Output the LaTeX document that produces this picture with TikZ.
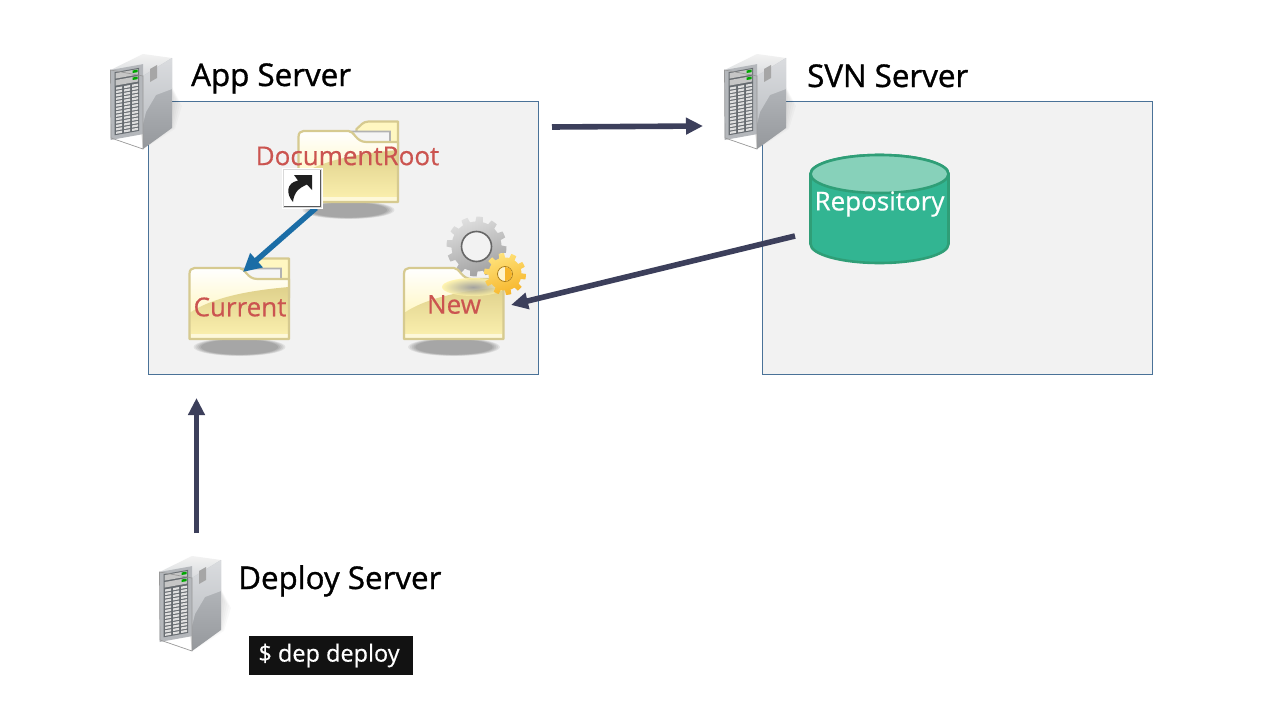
\documentclass[tikz,border=0pt]{standalone}
\usepackage{fontspec}
\setmainfont{Open Sans}
\newfontfamily\headfont[FakeBold=1.1]{Open Sans}
\newfontfamily\labelfont[FakeBold=0.5]{Open Sans}
\usetikzlibrary{arrows.meta}
\definecolor{panelbg}{HTML}{F2F2F2}
\definecolor{panelline}{HTML}{4A7298}
\definecolor{navy}{HTML}{3C3F5B}
\definecolor{linkblue}{HTML}{1B6DA6}
\definecolor{redlabel}{HTML}{CB5450}
\definecolor{cylbody}{HTML}{32B592}
\definecolor{cyltop}{HTML}{87D1BA}
\definecolor{cylline}{HTML}{2F9E77}
\definecolor{folderline}{HTML}{D6CA90}
\definecolor{foldermid}{HTML}{FFF3A6}
\definecolor{folderlow}{HTML}{DFD18C}
\definecolor{folderend}{HTML}{FCF1B0}
\definecolor{servertop}{HTML}{D9DBDD}
\definecolor{sidehi}{HTML}{DADCDF}
\definecolor{sidemid}{HTML}{BFC2C6}
\definecolor{sidelo}{HTML}{95989C}
\definecolor{frontface}{HTML}{B4B7BB}
\definecolor{rackdark}{HTML}{666B70}
\definecolor{gearhi}{HTML}{FFE27A}
\definecolor{gearlo}{HTML}{F6B52A}
\tikzset{
  x=1pt,y=-1pt,
  panelbox/.style={draw=panelline,line width=0.9pt,fill=panelbg,outer sep=0pt},
  headtext/.style={anchor=base west,inner sep=0pt,font=\fontsize{31.3}{36}\headfont},
  redtext/.style={inner sep=0pt,text=redlabel,font=\fontsize{26}{31}\labelfont},
  flow/.style={draw=navy,line width=5.6pt,-{Triangle[length=17pt,width=16pt]}},
  serverpic/.pic={
    \foreach \k in {1,...,5}{
      \fill[black,opacity=0.025] (30,70) -- (62,{38-\k}) -- ({62+2*\k},{42+2*\k}) -- ({60+\k},{70+\k}) -- (33,{93+\k/2}) -- cycle;
    }
    \shade[top color=white!90!gray,bottom color=servertop] (33,0) -- (62,4) -- (33,22) -- (0.5,16) -- cycle;
    \shade[top color=sidemid,bottom color=sidelo] (33,22) -- (62,4) -- (62,74) -- (33,95) -- cycle;
    \shade[top color=sidehi,bottom color=sidemid] (33,22) -- (62,4) -- (62,35) -- (46,41) -- (36,58) -- (33,70) -- cycle;
    \fill[gray!70] (40,15) -- (47,11) -- (47,24) -- (40,28) -- cycle;
    \begin{scope}[cm={1,0.18,0,-1,(0.5,16)}]
      \fill[frontface] (0,0) rectangle (32.5,-70);
      \fill[rackdark] (4,-3) rectangle (28.5,-66);
      \fill[gray!45] (5,-4) rectangle (27.5,-9.5);
      \fill[gray!45] (5,-11) rectangle (27.5,-16.5);
      \fill[green!65!black] (22,-4.5) rectangle (27,-7);
      \fill[green!65!black] (22,-11.5) rectangle (27,-14);
      \foreach \r in {0,...,13}{
        \foreach \c in {5.5,13.5,21.5}{
          \fill[white!75!gray] (\c,{-18.5-3.4*\r}) rectangle ({\c+6},{-20.7-3.4*\r});
        }
      }
    \end{scope}
    \draw[gray!80,line width=0.7pt] (0.5,16) -- (33,22) -- (33,95) -- (1,84) -- cycle;
  },
  foldershade/.pic={
    \foreach \s in {1,0.96,0.92,0.88,0.84}{
      \fill[black,opacity=0.07] (50,89) ellipse [x radius={46*\s},y radius={9*\s}];
    }
  },
  folderback/.pic={
    \fill[foldermid!70!white,draw=folderline,line width=2.2pt,line join=round] (58,30) -- (58,8) .. controls (62,5) and (64,0.5) .. (70,0.5) -- (99.5,0.5) -- (99.5,40) -- cycle;
    \fill[white!92!gray,draw=gray!60,line width=1.6pt] (47,10.5) -- (91.5,10.5) -- (91.5,24) -- (60,24) -- cycle;
  },
  folderfront/.pic={
    \shade[top color=white,bottom color=foldermid,draw=none]
      (0,16) .. controls (0,12) and (2,10) .. (5,10) -- (50,10) .. controls (56,10) and (57,21) .. (68,21) -- (99.5,21) -- (99.5,81) -- (0,81) -- cycle;
    \shade[top color=folderlow,bottom color=folderend]
      (0,55) .. controls (25,38) and (65,32) .. (99.5,29) -- (99.5,81) -- (0,81) -- cycle;
    \fill[white!70!foldermid,opacity=0.8] (1,76) -- (98,76) -- (98,80) -- (1,80) -- cycle;
    \draw[folderline,line width=2.2pt,line join=round]
      (0,16) .. controls (0,12) and (2,10) .. (5,10) -- (50,10) .. controls (56,10) and (57,21) .. (68,21) -- (99.5,21) -- (99.5,81) -- (0,81) -- cycle;
  },
}
\begin{document}
\begin{tikzpicture}
\useasboundingbox (0,0) rectangle (1280,720);
\fill[white] (0,0) rectangle (1280,720);

% panels
\node[panelbox,anchor=north west,minimum width=390pt,minimum height=273pt,inner sep=0pt] (appbox) at (148.5,101.5) {};
\node[panelbox,anchor=north west,minimum width=390pt,minimum height=273pt,inner sep=0pt] (svnbox) at (762.5,101.5) {};

% servers
\pic at (110,54) {serverpic};
\pic at (724,54) {serverpic};
\pic at (159,556) {serverpic};
\node[headtext] (apptitle) at (191,86) {App Server};
\node[headtext] (svntitle) at (807,87) {SVN Server};
\node[headtext] (deploytitle) at (238,589) {Deploy Server};

% DocumentRoot folder
\pic at (298.5,121) {foldershade};
\pic at (298.5,121) {folderback};
\pic at (298.5,121) {folderfront};
\node[redtext] (docroot) at (347.5,156) {DocumentRoot};

% Current folder
\pic at (189.5,258) {foldershade};
\pic at (189.5,258) {folderback};
\pic at (189.5,258) {folderfront};
\node[redtext] (current) at (240,307) {Current};

% New folder with gears
\pic at (404,258) {foldershade};
\begin{scope}[shift={(476.5,246.5)}]
  \shade[top color=gray!25,bottom color=gray!75,shading angle=20]
    plot[domain=0:360,samples=145] (\x:{(sin(12*\x+15)>0)?30:25}) -- cycle;
  \fill[panelbg,draw=gray!80!black,line width=1.6pt] (0,0) circle (15);
\end{scope}
\pic at (404,258) {folderfront};
\shade[inner color=gray!85,outer color=foldermid,opacity=0.85] (473,287) ellipse [x radius=31,y radius=9];
\node[redtext] (new) at (454,304.5) {New};
\begin{scope}[shift={(505,274)}]
  \shade[top color=gearhi,bottom color=gearlo,shading angle=20]
    plot[domain=0:360,samples=145] (\x:{(sin(10*\x+10)>0)?21:16.5}) -- cycle;
  \fill[white!60!gearhi,draw=gearlo!70!black,line width=0.8pt] (0,0) circle (7.5);
  \fill[gearlo] (0,-7) arc[start angle=-90,end angle=90,radius=7] -- cycle;
\end{scope}

% connector: shortcut link
\coordinate (linkstart) at (316,208);
\coordinate (linkend) at (243,272);
\draw[draw=linkblue,line width=5.4pt,-{Triangle[length=18pt,width=18pt]}] (linkstart) -- (linkend);

% shortcut badge
\begin{scope}[shift={(282,168)}]
  \fill[white] (0,0) rectangle (41,41);
  \draw[gray!70!black,line width=1.8pt] (1,39) -- (39,39) -- (39,1);
  \draw[gray!30,line width=0.8pt] (1,1) rectangle (39,39);
  \fill[black!88] (11,34) .. controls (4,26) and (4,15) .. (16,12.5) -- (12,7) -- (30,7) -- (30,22) -- (25,16.5) .. controls (17,20) and (12,24) .. (11,34) -- cycle;
\end{scope}

% repository
\draw[fill=cylbody,draw=cylline,line width=2.6pt] (810.5,174) -- (810.5,244) arc[start angle=180,end angle=0,x radius=69,y radius=19] -- (948.5,174) arc[start angle=0,end angle=-180,x radius=69,y radius=19] -- cycle;
\draw[fill=cyltop,draw=cylline,line width=2.6pt] (879.5,174) ellipse [x radius=69,y radius=19];
\node[inner sep=0pt,text=white,font=\fontsize{26}{31}\labelfont] (repo) at (879.5,204) {Repository};

% connectors
\coordinate (a1) at (552,127);
\coordinate (a2) at (703,126);
\draw[flow] (a1) -- (a2);
\coordinate (b1) at (795,236);
\coordinate (b2) at (511,305);
\draw[flow] (b1) -- (b2);
\coordinate (c1) at (196.5,533);
\coordinate (c2) at (196.5,398);
\draw[flow] (c1) -- (c2);

% command
\node[anchor=north west,fill=black!93,minimum width=164pt,minimum height=39pt,inner sep=0pt,outer sep=0pt] (cmdbox) at (249,636) {};
\node[inner sep=0pt,text=white,font=\fontsize{23.5}{28}\labelfont] (cmd) at (329,655.5) {\$ dep deploy};
\end{tikzpicture}
\end{document}
